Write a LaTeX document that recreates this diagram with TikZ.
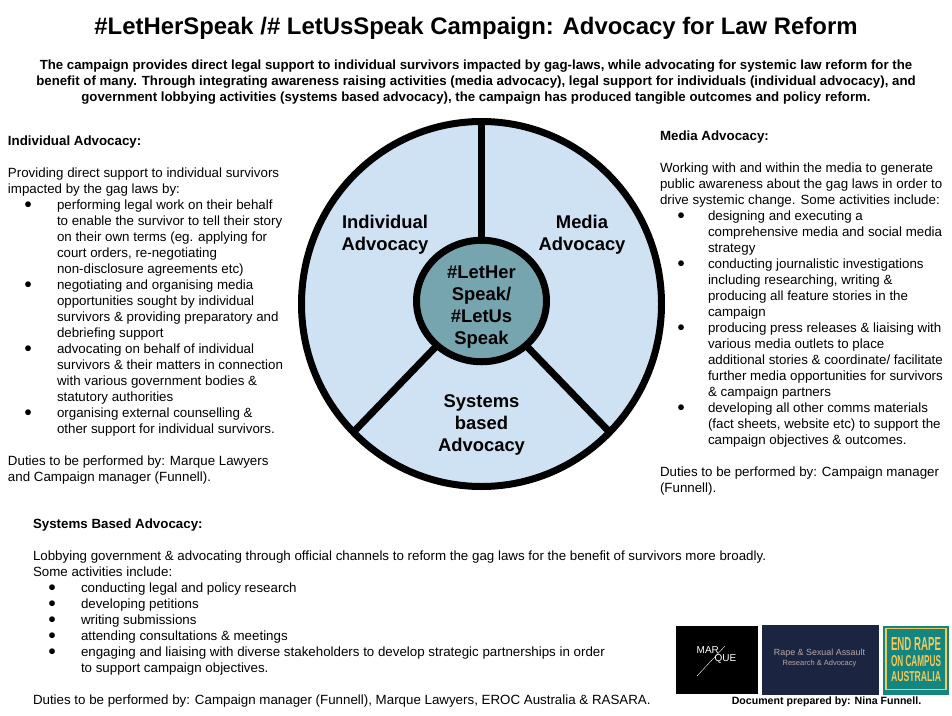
\documentclass[tikz,border=0pt]{standalone}
\usepackage{fontspec}
\setmainfont{Liberation Sans}
\usepackage{tikz}
\usetikzlibrary{shapes.geometric}
\definecolor[named]{myColorWheel}{HTML}{CFE2F3}
\definecolor[named]{myColorHub}{HTML}{76A5AF}
\definecolor[named]{myColorNavy}{HTML}{1B2541}
\definecolor[named]{myColorTeal}{HTML}{14857F}
\definecolor[named]{myColorGold}{HTML}{F2C95A}
\definecolor[named]{myColorRose}{HTML}{B9A6A8}

\begin{document}
\begin{tikzpicture}
[%
    x=1pt,
    y=-1pt,
    para/.style={
      anchor=north west,
      inner sep=0pt,
      outer sep=0pt,
      align=left,
      font=\fontsize{13.33}{16}\selectfont,
      execute at begin node=\strut
    },
    head/.style={
      para,
      font=\fontsize{13.33}{16}\selectfont\bfseries
    },
    dot/.style={
      anchor=north west,
      inner sep=0pt,
      outer sep=0pt,
      font=\fontsize{13.33}{16}\selectfont,
      execute at begin node=\strut
    },
    wheel/.style={
      ellipse,
      draw=black,
      line width=7pt,
      inner sep=0pt,
      outer sep=0pt
    },
    spoke/.style={
      draw=black,
      line width=7pt
    },
    label/.style={
      align=center,
      inner sep=0pt,
      font=\fontsize{18.4}{22}\selectfont\bfseries
    },
    logo/.style={
      anchor=north west,
      inner sep=0pt,
      outer sep=0pt
    },
    erocline/.style={
      inner sep=0pt,
      text=myColorGold,
      font=\bfseries
    }
  ]
  \useasboundingbox (0,0) rectangle (952,715);

  %Title
  \node[inner sep=0pt,font=\fontsize{23.9}{26}\selectfont\bfseries] (title) at (476,28)
    {\#LetHerSpeak /\# LetUsSpeak Campaign: Advocacy for Law Reform};
  \node[inner sep=0pt,align=center,font=\fontsize{13.25}{16}\selectfont\bfseries] (intro) at (476,82)
    {The campaign provides direct legal support to individual survivors impacted by gag-laws, while advocating for systemic law reform for the\\
     benefit of many. Through integrating awareness raising activities (media advocacy), legal support for individuals (individual advocacy), and\\
     government lobbying activities (systems based advocacy), the campaign has produced tangible outcomes and policy reform.};

  %Wheel
  \node[wheel,fill=myColorWheel,minimum width=360pt,minimum height=365pt] (outer) at (481.5,304) {};
  \node[wheel,fill=myColorHub,minimum width=130pt,minimum height=121.5pt] (hub) at (481.5,301) {};
  \draw[spoke] (hub.90) -- (outer.90);
  \draw[spoke] (hub.-135) -- (outer.-135);
  \draw[spoke] (hub.-45) -- (outer.-45);
  \node[label] (hubtext) at (481.5,307) {\#LetHer\\Speak/\\\#LetUs\\Speak};
  \node[label] (indlabel) at (385,234.5) {Individual\\Advocacy};
  \node[label] (medlabel) at (582,234.5) {Media\\Advocacy};
  \node[label] (syslabel) at (481.5,424.5) {Systems\\based\\Advocacy};

  %Individual advocacy
  \node[head] (indhead) at (8,134) {Individual Advocacy:};
  \node[para] (indtext) at (8,168) {Providing direct support to individual survivors\\impacted by the gag laws by:};
  \node[dot] (inddotA) at (24,197) {●};
  \node[para] (inditemA) at (57,200) {performing legal work on their behalf\\to enable the survivor to tell their story\\on their own terms (eg. applying for\\court orders, re-negotiating\\non-disclosure agreements etc)};
  \node[dot] (inddotB) at (24,277) {●};
  \node[para] (inditemB) at (57,280) {negotiating and organising media\\opportunities sought by individual\\survivors \& providing preparatory and\\debriefing support};
  \node[dot] (inddotC) at (24,341) {●};
  \node[para] (inditemC) at (57,344) {advocating on behalf of individual\\survivors \& their matters in connection\\with various government bodies \&\\statutory authorities};
  \node[dot] (inddotD) at (24,405) {●};
  \node[para] (inditemD) at (57,408) {organising external counselling \&\\other support for individual survivors.};
  \node[para] (indduty) at (8,456) {Duties to be performed by: Marque Lawyers\\and Campaign manager (Funnell).};

  %Media advocacy
  \node[head] (medhead) at (660,129) {Media Advocacy:};
  \node[para] (medtext) at (660,163) {Working with and within the media to generate\\public awareness about the gag laws in order to\\drive systemic change. Some activities include:};
  \node[dot] (meddotA) at (677,208) {●};
  \node[para] (meditemA) at (708,211) {designing and executing a\\comprehensive media and social media\\strategy};
  \node[dot] (meddotB) at (677,256) {●};
  \node[para] (meditemB) at (708,259) {conducting journalistic investigations\\including researching, writing \&\\producing all feature stories in the\\campaign};
  \node[dot] (meddotC) at (677,320) {●};
  \node[para] (meditemC) at (708,323) {producing press releases \& liaising with\\various media outlets to place\\additional stories \& coordinate/ facilitate\\further media opportunities for survivors\\\& campaign partners};
  \node[dot] (meddotD) at (677,400) {●};
  \node[para] (meditemD) at (708,403) {developing all other comms materials\\(fact sheets, website etc) to support the\\campaign objectives \& outcomes.};
  \node[para] (medduty) at (660,467) {Duties to be performed by: Campaign manager\\(Funnell).};

  %Systems advocacy
  \node[head] (syshead) at (33,517) {Systems Based Advocacy:};
  \node[para] (systext) at (33,551) {Lobbying government \& advocating through official channels to reform the gag laws for the benefit of survivors more broadly.\\Some activities include:};
  \node[dot] (sysdotA) at (48,580) {●};
  \node[para] (sysitemA) at (81,581) {conducting legal and policy research};
  \node[dot] (sysdotB) at (48,596) {●};
  \node[para] (sysitemB) at (81,597) {developing petitions};
  \node[dot] (sysdotC) at (48,612) {●};
  \node[para] (sysitemC) at (81,613) {writing submissions};
  \node[dot] (sysdotD) at (48,628) {●};
  \node[para] (sysitemD) at (81,629) {attending consultations \& meetings};
  \node[dot] (sysdotE) at (48,644) {●};
  \node[para] (sysitemE) at (81,647) {engaging and liaising with diverse stakeholders to develop strategic partnerships in order\\to support campaign objectives.};
  \node[para] (sysduty) at (33,693) {Duties to be performed by: Campaign manager (Funnell), Marque Lawyers, EROC Australia \& RASARA.};

  %Logos
  \node[logo,fill=black,minimum width=82pt,minimum height=68pt] (marque) at (676,626) {};
  \node[inner sep=0pt,align=left,text=white,font=\fontsize{10}{8.5}\selectfont] (marquetext) at (716.5,655) {MAR\\\hspace*{18pt}QUE};
  \draw[white,line width=0.4pt] (725,646) -- (697,676);
  \node[logo,fill=myColorNavy,minimum width=117pt,minimum height=70pt] (rasara) at (762,625) {};
  \node[inner sep=0pt,align=center,text=myColorRose,font=\fontsize{8.9}{10}\selectfont] (rasaratext) at (819.5,658) {Rape \& Sexual Assault\\{\fontsize{7.5}{10}\selectfont Research \& Advocacy}};
  \node[logo,fill=myColorTeal,minimum width=66pt,minimum height=68.5pt] (eroc) at (883,626) {};
  \node[draw=myColorGold,line width=1.4pt,minimum width=60pt,minimum height=61pt,inner sep=0pt] (erocframe) at (916,659) {};
  \node[erocline] (eroctextA) at (916,643.5) {\resizebox{50pt}{13pt}{END RAPE}};
  \node[erocline] (eroctextB) at (916,661.5) {\resizebox{50pt}{11pt}{ON CAMPUS}};
  \node[erocline] (eroctextC) at (916,677) {\resizebox{50pt}{10pt}{AUSTRALIA}};
  \node[inner sep=0pt,font=\fontsize{10.6}{13}\selectfont\bfseries] (prepared) at (826.5,701.5) {Document prepared by: Nina Funnell.};
\end{tikzpicture}
\end{document}
